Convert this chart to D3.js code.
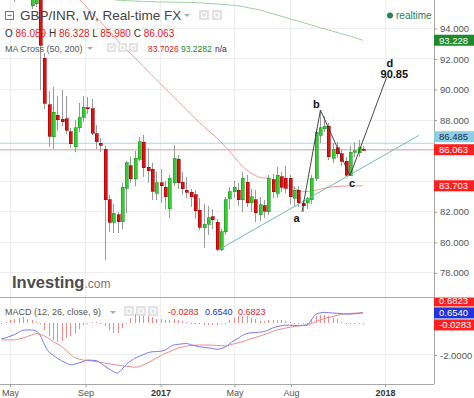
<!DOCTYPE html>
<html>
<head>
<meta charset="utf-8">
<script src="https://cdn.jsdelivr.net/npm/d3@7"></script>
<style>
  body { margin: 0; background: #fff; }
  svg { display: block; font-family: "Liberation Sans", Arial, sans-serif; }
</style>
</head>
<body>
<svg id="chart" width="474" height="398"></svg>
<script>
// GBP/INR weekly candles, one entry per week starting at firstWeek (oldest first)
const firstWeek = "2016-04-17";

const open = [
  96.6, 97.0, 97.4, 96.7, 96.3,   97.3, 98.1, 95.5, 95.6, 96.8,
  92.05, 88.99, 86.9, 88.33, 88.05, 88.1, 87.25, 86.25, 87.5, 88.2,
  88.8, 88.75, 87.1, 86.5, 86.1,  82.8, 81.3, 81.8, 81.35, 83.55,
  85.0, 84.15, 85.45, 86.56, 84.9, 84.8, 83.2, 83.9, 83.6, 82.2,
  83.9, 85.45, 83.95, 83.4, 83.28, 83.1, 82.1, 80.96, 81.2, 81.66,
  81.3, 79.5, 80.7, 82.9, 83.3,   83.4, 82.8, 83.95, 82.6, 82.8,
  81.8, 82.4, 82.0, 84.1, 83.2,   84.3, 84.2, 84.2, 82.9, 83.4,
  82.55, 82.6, 82.8, 84.2, 87.0,  87.45, 87.6, 85.5, 86.2, 85.8,
  85.3, 84.4, 85.9, 85.85, 86.089
];
const high = [
  97.3, 98.0, 97.8, 97.0, 97.6,   98.5, 98.3, 96.7, 97.0, 97.6,
  92.4, 89.9, 90.2, 89.6, 90.0,   89.6, 87.5, 88.0, 89.1, 89.6,
  89.5, 89.4, 87.7, 86.8, 86.3,   83.1, 82.5, 82.0, 83.9, 85.3,
  85.6, 86.0, 86.9, 87.0, 86.2,   85.2, 84.6, 84.8, 84.0, 84.4,
  86.4, 85.7, 84.6, 84.3, 83.5,   83.4, 82.9, 82.5, 82.4, 82.2,
  81.5, 80.9, 83.0, 83.6, 84.0,   83.9, 84.6, 84.4, 83.5, 83.4,
  83.0, 82.8, 84.4, 84.5, 84.9,   84.6, 85.0, 84.4, 83.7, 83.7,
  82.8, 83.0, 84.4, 87.4, 88.66,  88.3, 87.8, 86.5, 86.6, 86.1,
  85.6, 86.3, 86.6, 86.7, 86.328
];
const low = [
  96.2, 96.8, 96.4, 95.7, 96.1,   97.1, 96.0, 95.3, 95.4, 90.0,
  88.7, 86.24, 86.1, 87.3, 87.6,  87.1, 86.2, 85.9, 87.2, 87.9,
  88.4, 87.0, 86.1, 85.9, 78.85,  80.7, 80.6, 80.6, 80.9, 81.9,
  83.9, 83.7, 85.3, 84.3, 83.9,   82.8, 82.8, 82.6, 82.2, 81.6,
  83.7, 83.5, 83.1, 82.9, 82.3,   81.5, 80.8, 79.6, 80.5, 80.9,
  79.45, 79.45, 80.5, 82.2, 82.9, 82.4, 82.0, 82.3, 82.0, 81.3,
  81.4, 81.6, 81.8, 82.9, 82.9,   83.3, 83.2, 82.5, 82.4, 82.3,
  82.0, 82.2, 82.5, 84.0, 86.5,   87.2, 85.4, 85.2, 85.5, 85.0,
  84.3, 84.36, 85.6, 85.6, 85.98
];
const close = [
  97.0, 97.4, 96.7, 96.3, 97.3,   98.1, 96.2, 96.3, 96.8, 92.9,
  89.1, 86.96, 88.5, 88.04, 87.9, 87.35, 86.45, 87.5, 88.2, 88.85,
  88.75, 87.15, 86.6, 86.35, 82.8, 81.3, 81.9, 81.35, 83.6, 85.2,
  84.15, 85.5, 86.6, 84.87, 84.7, 83.36, 83.9, 83.7, 82.97, 84.2,
  85.5, 83.9, 83.5, 83.27, 83.0,  82.07, 81.0, 81.2, 81.6, 81.47,
  79.56, 80.7, 82.8, 83.3, 83.6,  82.8, 84.2, 82.6, 83.0, 81.95,
  82.45, 82.05, 84.2, 83.3, 84.4, 83.6, 83.55, 83.0, 83.4, 82.6,
  82.4, 82.9, 84.2, 87.2, 87.5,   87.6, 85.6, 86.1, 85.8, 85.3,
  84.4, 85.9, 86.0, 86.2, 86.063
];

// MA Cross (50, 200)
const ma50 = [
  97.8, 97.8, 97.7, 97.7, 97.6,   97.6, 97.5, 97.5, 97.4, 97.3,
  97.2, 97.0, 96.8, 96.65, 96.5,  96.35, 96.2, 96.05, 95.92, 95.64,
  95.34, 95.04, 94.74, 94.43, 94.13, 93.83, 93.53, 93.22, 92.92, 92.64,
  92.35, 92.07, 91.79, 91.5, 91.22, 90.93, 90.65, 90.37, 90.08, 89.8,
  89.52, 89.24, 88.96, 88.68, 88.39, 88.11, 87.84, 87.6, 87.35, 87.09,
  86.84, 86.58, 86.27, 85.97, 85.62, 85.29, 84.98, 84.74, 84.54, 84.38,
  84.26, 84.21, 84.21, 84.11, 84.0, 83.88, 83.78, 83.68, 83.56, 83.43,
  83.31, 83.33, 83.37, 83.41, 83.47, 83.54, 83.6, 83.63, 83.66, 83.68,
  83.69, 83.7, 83.7, 83.7, 83.7026
];
const ma200 = [
  null, null, null, null, null,   null, null, null, null, null,
  null, null, null, null, null,   null, null, null, null, null,
  null, null, 96.2, 96.1, 96.02,  95.95, 95.89, 95.85, 95.83, 95.82,
  95.8, 95.79, 95.78, 95.77, 95.76, 95.75, 95.74, 95.73, 95.73, 95.72,
  95.72, 95.71, 95.71, 95.7, 95.7, 95.69, 95.67, 95.66, 95.64, 95.62,
  95.6, 95.58, 95.56, 95.53, 95.5, 95.48, 95.44, 95.38, 95.32, 95.27,
  95.21, 95.13, 95.04, 94.96, 94.88, 94.8, 94.72, 94.63, 94.55, 94.47,
  94.39, 94.31, 94.22, 94.14, 94.05, 93.98, 93.9, 93.82, 93.74, 93.66,
  93.58, 93.5, 93.42, 93.33, 93.2282
];

// MACD (12, 26, close, 9)
const macd = [
  -0.98, -0.92, -0.82, -0.72, -0.58, -0.44, -0.42, -0.42, -0.48, -0.75,
  -1.35, -1.8, -2.0, -2.2, -2.37,   -2.5, -2.62, -2.58, -2.5, -2.42,
  -2.32, -2.33, -2.35, -2.5, -2.7,  -2.87, -3.05, -3.14, -2.9, -2.6,
  -2.38, -2.2, -2.08, -1.98, -1.86, -1.8, -1.78, -1.76, -1.7, -1.52,
  -1.37, -1.33, -1.3, -1.27, -1.35, -1.42, -1.48, -1.51, -1.55, -1.58,
  -1.64, -1.6, -1.5, -1.3, -1.1,    -0.95, -0.77, -0.65, -0.6, -0.58,
  -0.56, -0.52, -0.43, -0.3, -0.21, -0.16, -0.12, -0.12, -0.13, -0.15,
  -0.13, -0.11, 0.2, 0.55, 0.65,    0.69, 0.67, 0.65, 0.63, 0.6,
  0.58, 0.58, 0.6, 0.62, 0.654
];
const signal = [
  -1.05, -1.05, -1.05, -1.05, -1.0, -0.93, -0.84, -0.74, -0.65, -0.7,
  -0.8, -0.95, -1.15, -1.3, -1.47,  -1.7, -1.95, -2.15, -2.25, -2.32,
  -2.35, -2.38, -2.42, -2.46, -2.51, -2.56, -2.6, -2.64, -2.68, -2.71,
  -2.74, -2.77, -2.74, -2.62, -2.5, -2.35, -2.2, -2.05, -1.9, -1.8,
  -1.67, -1.57, -1.5, -1.43, -1.4,  -1.38, -1.37, -1.37, -1.37, -1.38,
  -1.39, -1.41, -1.43, -1.38, -1.3, -1.23, -1.17, -1.07, -0.97, -0.9,
  -0.81, -0.72, -0.62, -0.52, -0.42, -0.36, -0.3, -0.25, -0.2, -0.16,
  -0.14, -0.12, -0.02, 0.1, 0.21,   0.3, 0.38, 0.42, 0.5, 0.57,
  0.6, 0.62, 0.64, 0.66, 0.6823
];
const hist = [
  0.05, 0.1, 0.2, 0.3, 0.35,        0.38, 0.3, 0.2, 0.1, -0.05,
  -0.4, -0.8, -1.05, -1.16, -1.1,   -0.95, -0.8, -0.6, -0.35, -0.1,
  0.05, 0.08, 0.08, 0.05, -0.2,     -0.45, -0.6, -0.63, -0.3, 0.05,
  0.35, 0.6, 0.63, 0.6, 0.5,        0.4, 0.3, 0.25, 0.2, 0.2,
  0.25, 0.2, 0.15, 0.1, 0.05,       0.0, -0.05, -0.1, -0.1, -0.08,
  -0.1, -0.05, 0.05, 0.2, 0.35,     0.45, 0.46, 0.45, 0.35, 0.25,
  0.15, 0.15, 0.2, 0.2, 0.2,        0.2, 0.15, 0.1, 0.05, 0.0,
  -0.05, 0.05, 0.25, 0.45, 0.5,     0.5, 0.45, 0.35, 0.25, 0.1,
  0.02, -0.02, 0.02, 0.0, -0.0283
];

// drawings
const trendDates = ["2017-04-07", "2018-02-25"];
const trendValues = [79.55, 87.0];
const waveNames = ["a", "b", "c", "d"];
const waveDates = ["2017-08-19", "2017-09-18", "2017-11-05", "2018-01-04"];
const waveValues = [82.0, 88.66, 84.36, 90.85];
const askPrice = 86.485;

// axes
const priceTicks = [78, 80, 82, 84, 86, 88, 90, 92, 94];
const macdTicks = [-2, 0];
const timeTicks = ["2016-05-01", "2016-09-01", "2017-01-01", "2017-05-01", "2017-08-01", "2018-01-01"];
const timeLabels = ["May", "Sep", "2017", "May", "Aug", "2018"];

const parse = d3.utcParse("%Y-%m-%d");
const start = parse(firstWeek);
const dates = open.map((d, i) => d3.utcWeek.offset(start, i));
const last = open.length - 1;

const svg = d3.select("#chart");
const right = 434, mainBottom = 297, macdBottom = 384;

const x = d3.scaleUtc()
  .domain([parse("2016-05-01"), parse("2018-01-01")])
  .range([10, 385]);
const y = d3.scaleLinear().domain([76.424, 95.861]).range([mainBottom, 0]);
const my = d3.scaleLinear().domain([-3.83, 1.659]).range([macdBottom, mainBottom]);

const defs = svg.append("defs");
defs.append("clipPath").attr("id", "clipMain")
  .append("rect").attr("x", 0).attr("y", 0).attr("width", right).attr("height", mainBottom);
defs.append("clipPath").attr("id", "clipMacd")
  .append("rect").attr("x", 0).attr("y", mainBottom).attr("width", right).attr("height", macdBottom - mainBottom);
defs.append("clipPath").attr("id", "clipMacdTags")
  .append("rect").attr("x", right).attr("y", mainBottom + 0.5).attr("width", 40).attr("height", macdBottom - mainBottom);

// grid
const grid = svg.append("g").attr("stroke", "#eeeeee").attr("shape-rendering", "crispEdges");
grid.selectAll(".h").data(priceTicks).join("line")
  .attr("x1", 0).attr("x2", right)
  .attr("y1", d => y(d)).attr("y2", d => y(d));
grid.selectAll(".v").data(timeTicks).join("line")
  .attr("x1", d => x(parse(d))).attr("x2", d => x(parse(d)))
  .attr("y1", 0).attr("y2", macdBottom);
grid.selectAll(".m").data([-2]).join("line")
  .attr("x1", 0).attr("x2", right)
  .attr("y1", d => my(d)).attr("y2", d => my(d));

// main panel
const main = svg.append("g").attr("clip-path", "url(#clipMain)");

main.append("line")
  .attr("x1", 0).attr("x2", right)
  .attr("y1", y(askPrice)).attr("y2", y(askPrice))
  .attr("stroke", "#aad8e6");
main.append("line")
  .attr("x1", 0).attr("x2", right)
  .attr("y1", y(close[last])).attr("y2", y(close[last]))
  .attr("stroke", "#f5a3a3");

const maLine = d3.line()
  .defined(d => d != null)
  .x((d, i) => x(dates[i]))
  .y(d => y(d))
  .curve(d3.curveMonotoneX);
main.append("path").attr("d", maLine(ma50))
  .attr("fill", "none").attr("stroke", "#f29a9a").attr("stroke-width", 1);
main.append("path").attr("d", maLine(ma200))
  .attr("fill", "none").attr("stroke", "#9fd09f").attr("stroke-width", 1);

const candles = dates.map((d, i) => ({ date: d, o: open[i], h: high[i], l: low[i], c: close[i] }));
const gCandles = main.append("g").attr("shape-rendering", "crispEdges");
gCandles.selectAll("line").data(candles).join("line")
  .attr("x1", d => Math.round(x(d.date)) + 0.5)
  .attr("x2", d => Math.round(x(d.date)) + 0.5)
  .attr("y1", d => y(d.h)).attr("y2", d => y(d.l))
  .attr("stroke", "#9a9a9a");
gCandles.selectAll("rect").data(candles).join("rect")
  .attr("x", d => Math.round(x(d.date)) - 1)
  .attr("width", 3)
  .attr("y", d => y(Math.max(d.o, d.c)))
  .attr("height", d => Math.max(1, Math.abs(y(d.o) - y(d.c))))
  .attr("fill", d => d.c >= d.o ? "#33cc33" : "#dd1111")
  .attr("stroke", d => d.c >= d.o ? "#1f9a1f" : "#a80000")
  .attr("stroke-width", 0.6);

// trend line and wave count
const over = svg.append("g").attr("clip-path", "url(#clipMain)");
over.append("line")
  .attr("x1", x(parse(trendDates[0]))).attr("y1", y(trendValues[0]))
  .attr("x2", x(parse(trendDates[1]))).attr("y2", y(trendValues[1]))
  .attr("stroke", "#6fbdb0").attr("stroke-width", 1);

const wave = waveNames.map((n, i) => ({ name: n, date: parse(waveDates[i]), value: waveValues[i] }));
over.append("path")
  .attr("d", d3.line().x(d => x(d.date)).y(d => y(d.value))(wave))
  .attr("fill", "none").attr("stroke", "#333").attr("stroke-width", 0.9);

const labelOffset = { a: [-5.5, 10.5], b: [-4, -2], c: [2, 11.5], d: [3, -10] };
over.selectAll(".wl").data(wave).join("text")
  .attr("x", d => x(d.date) + labelOffset[d.name][0])
  .attr("y", d => y(d.value) + labelOffset[d.name][1])
  .attr("text-anchor", "middle")
  .attr("font-size", 11).attr("font-weight", "bold").attr("fill", "#111")
  .text(d => d.name);
over.append("text")
  .attr("x", x(wave[3].date) + 7.5).attr("y", y(wave[3].value) + 1)
  .attr("text-anchor", "middle")
  .attr("font-size", 11).attr("font-weight", "bold").attr("fill", "#111")
  .text(waveValues[3].toFixed(2));

// MACD panel
const sub = svg.append("g").attr("clip-path", "url(#clipMacd)");
sub.append("g").attr("fill", "#f28a8a").attr("shape-rendering", "crispEdges")
  .selectAll("rect").data(hist).join("rect")
  .attr("x", (d, i) => Math.round(x(dates[i])))
  .attr("width", 1)
  .attr("y", d => my(Math.max(d, 0)))
  .attr("height", d => Math.max(1, Math.abs(my(d) - my(0))));

const subLine = d3.line()
  .x((d, i) => x(dates[i]))
  .y(d => my(d))
  .curve(d3.curveMonotoneX);
sub.append("path").attr("d", subLine(signal))
  .attr("fill", "none").attr("stroke", "#f08c8c").attr("stroke-width", 1);
sub.append("path").attr("d", subLine(macd))
  .attr("fill", "none").attr("stroke", "#7a7af2").attr("stroke-width", 1);

// frame
const frame = svg.append("g").attr("stroke", "#a8a8a8").attr("shape-rendering", "crispEdges");
frame.append("line").attr("x1", 0).attr("x2", right).attr("y1", mainBottom + 0.5).attr("y2", mainBottom + 0.5);
frame.append("line").attr("x1", 0).attr("x2", right).attr("y1", macdBottom + 0.5).attr("y2", macdBottom + 0.5);
frame.append("line").attr("x1", right + 0.5).attr("x2", right + 0.5).attr("y1", 0).attr("y2", macdBottom);

// price tags on the right, nudged apart when they collide
function placeTags(items, gap) {
  const placed = items.filter(d => d.fixed);
  items.filter(d => !d.fixed).forEach(d => {
    placed.forEach(p => {
      if (Math.abs(d.y - p.y) < gap) d.y = d.y <= p.y ? p.y - gap : p.y + gap;
    });
    placed.push(d);
  });
  return items;
}
function drawTags(g, items, digits) {
  const t = g.selectAll("g").data(items).join("g")
    .attr("transform", d => `translate(${right},${d.y})`);
  t.append("rect").attr("x", 0).attr("y", -5.5).attr("width", 40).attr("height", 11)
    .attr("fill", d => d.bg);
  t.append("text").attr("x", 5).attr("y", 3.5)
    .attr("font-size", 9.5).attr("fill", d => d.fg)
    .text(d => d.value.toFixed(digits));
}
const mainTags = placeTags([
  { value: close[last], y: y(close[last]), bg: "#ff1f1f", fg: "#fff", fixed: true },
  { value: ma200[last], y: y(ma200[last]), bg: "#1f8a2a", fg: "#fff" },
  { value: askPrice, y: y(askPrice), bg: "#8ccfe0", fg: "#1d2a5a" },
  { value: ma50[last], y: y(ma50[last]), bg: "#ff1f1f", fg: "#fff" }
], 13);
const macdTags = placeTags([
  { value: macd[last], y: my(macd[last]), bg: "#2233dd", fg: "#fff", fixed: true },
  { value: signal[last], y: my(signal[last]), bg: "#ff1f1f", fg: "#fff" },
  { value: hist[last], y: my(hist[last]), bg: "#ff1f1f", fg: "#fff" }
], 12);

// axes (tick labels that sit under a price tag stay hidden, as on the original)
const freeOf = (tags, scale) => v => tags.every(t => Math.abs(scale(v) - t.y) > 8);
function styleAxis(g, size) {
  g.select(".domain").remove();
  g.selectAll(".tick line").attr("stroke", "#999");
  g.selectAll(".tick text").attr("fill", "#555").attr("font-size", size)
    .attr("font-family", "Liberation Sans, Arial, sans-serif");
}
svg.append("g").attr("transform", `translate(${right},0)`)
  .call(d3.axisRight(y).tickValues(priceTicks.filter(freeOf(mainTags, y)))
    .tickSize(3).tickPadding(3).tickFormat(d => d.toFixed(3)))
  .call(g => styleAxis(g, 9.5));
svg.append("g").attr("transform", `translate(${right},0)`)
  .call(d3.axisRight(my).tickValues(macdTicks.filter(freeOf(macdTags, my)))
    .tickSize(3).tickPadding(3).tickFormat(d => d.toFixed(4)))
  .call(g => styleAxis(g, 9.5));
svg.append("g").attr("transform", `translate(0,${macdBottom})`)
  .call(d3.axisBottom(x).tickValues(timeTicks.map(parse)).tickSize(3).tickPadding(3)
    .tickFormat((d, i) => timeLabels[i]))
  .call(g => styleAxis(g, 9))
  .call(g => g.selectAll(".tick text")
    .attr("font-weight", (d, i) => /^\d/.test(timeLabels[i]) ? "bold" : null)
    .attr("fill", (d, i) => /^\d/.test(timeLabels[i]) ? "#333" : "#555"));

drawTags(svg.append("g"), mainTags, 3);
drawTags(svg.append("g").attr("clip-path", "url(#clipMacdTags)"), macdTags, 4);

// watermark
const logo = svg.append("text").attr("x", 12).attr("y", 288);
logo.append("tspan").attr("font-size", 16.5).attr("font-weight", "bold").attr("fill", "#4d4d4d").text("Investing");
logo.append("tspan").attr("font-size", 12).attr("fill", "#777").text(".com");

// header
const head = svg.append("g");
function iconBox(g, x0, y0, s) {
  g.append("rect").attr("x", x0).attr("y", y0).attr("width", s).attr("height", s)
    .attr("fill", "#e3e3e3");
  g.append("circle").attr("cx", x0 + s / 2).attr("cy", y0 + s / 2).attr("r", s / 4)
    .attr("fill", "none").attr("stroke", "#fff").attr("stroke-width", 1.2);
}
function dropArrow(g, x0, y0) {
  g.append("path").attr("d", `M${x0},${y0}l6,0l-3,3z`).attr("fill", "#aaa");
}
head.append("rect").attr("x", 5.5).attr("y", 11.5).attr("width", 8).attr("height", 8)
  .attr("fill", "none").attr("stroke", "#777");
head.append("line").attr("x1", 7.5).attr("x2", 11.5).attr("y1", 15.5).attr("y2", 15.5).attr("stroke", "#777");
head.append("text").attr("x", 20).attr("y", 20)
  .attr("font-size", 13.5).attr("fill", "#444")
  .text("GBP/INR, W, Real-time FX");
dropArrow(head, 184, 14);
iconBox(head, 199, 10, 10);
iconBox(head, 212, 10, 10);

const ohlc = head.append("text").attr("x", 5).attr("y", 36.5).attr("font-size", 10)
  .style("white-space", "pre");
[["O", open[last]], ["H", high[last]], ["L", low[last]], ["C", close[last]]].forEach(([k, v], i) => {
  ohlc.append("tspan").attr("fill", "#333").text((i ? " " : "") + k + " ");
  ohlc.append("tspan").attr("fill", "#e31b1b").text(v.toFixed(3));
});

head.append("text").attr("x", 5).attr("y", 51.5).attr("font-size", 9).attr("fill", "#555")
  .text("MA Cross (50, 200)");
dropArrow(head, 87, 47);
iconBox(head, 107, 43, 9);
iconBox(head, 118, 43, 9);
iconBox(head, 129, 43, 9);
[[ma50[last].toFixed(4), "#e31b1b", 148], [ma200[last].toFixed(4), "#1a8a2a", 181], ["n/a", "#1d2a6a", 215]]
  .forEach(([t, c, px]) => head.append("text").attr("x", px).attr("y", 51.5)
    .attr("font-size", 8.5).attr("fill", c).text(t));

head.append("circle").attr("cx", 390).attr("cy", 15.5).attr("r", 3).attr("fill", "#2e7d5b");
head.append("text").attr("x", 396).attr("y", 19).attr("font-size", 10).attr("fill", "#2e7d5b")
  .text("realtime");

head.append("text").attr("x", 5).attr("y", 315).attr("font-size", 9).attr("fill", "#555")
  .text("MACD (12, 26, close, 9)");
dropArrow(head, 110, 311);
iconBox(head, 124, 306, 10);
iconBox(head, 136, 306, 10);
iconBox(head, 148, 306, 10);
[[hist[last].toFixed(4), "#e31b1b", 168], [macd[last].toFixed(4), "#2233dd", 205], [signal[last].toFixed(4), "#e31b1b", 238]]
  .forEach(([t, c, px]) => head.append("text").attr("x", px).attr("y", 315)
    .attr("font-size", 9).attr("fill", c).text(t));
</script>
</body>
</html>
